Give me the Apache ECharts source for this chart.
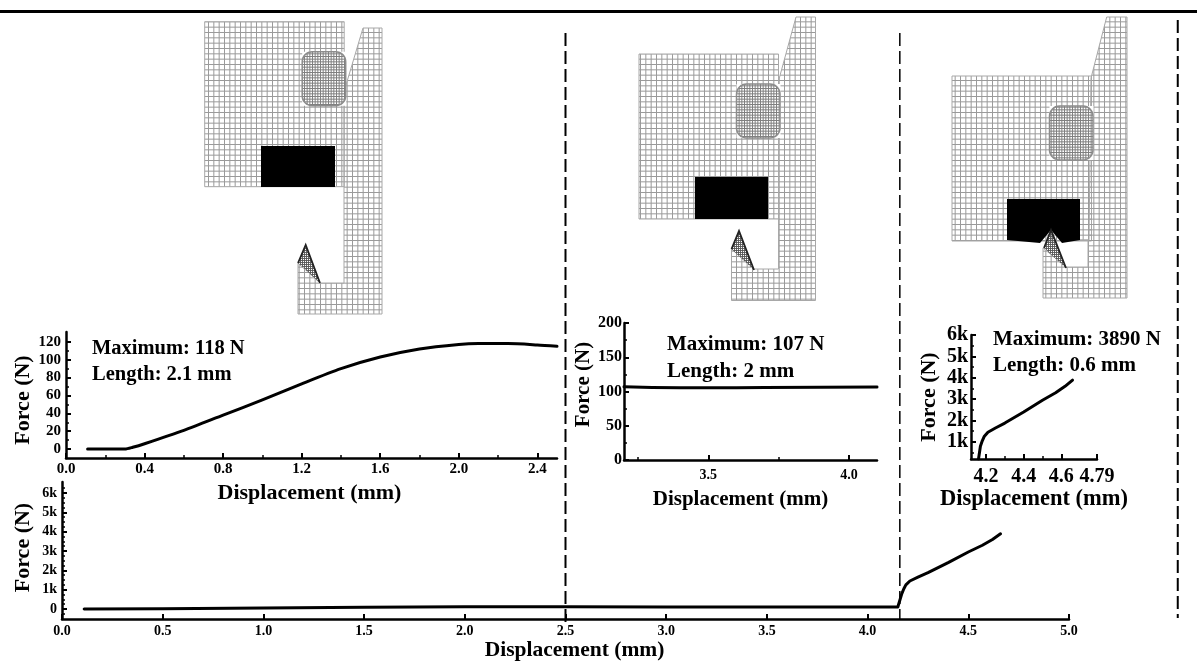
<!DOCTYPE html>
<html><head><meta charset="utf-8">
<style>html,body{margin:0;padding:0;background:#fff}#c{width:1197px;height:662px}</style>
<script src="https://cdn.jsdelivr.net/npm/echarts@6/dist/echarts.min.js"></script>
</head><body><div id="c"></div>
<script>
const onsetX=[0.11,0.3,0.34,0.4,0.6,0.8,1.0,1.2,1.4,1.6,1.8,2.0,2.1,2.25,2.4,2.5];
const onsetF=[0,0,2,6,21,38,55,73,90,103,112,117,118,118,116.5,115];
const plateauX=[3.2,3.3,3.4,3.6,3.7,4.1];
const plateauF=[107,106,105.5,105.5,106,106.5];
const riseX=[4.16,4.17,4.18,4.19,4.21,4.25,4.3,4.4,4.5,4.57,4.62,4.66];
const riseF=[200,800,1050,1250,1450,1650,1880,2400,2950,3300,3600,3890];
const fullX=[0.11,0.5,1,1.5,2,2.5,3,3.5,4.15,4.157,4.17,4.18,4.19,4.21,4.25,4.3,4.4,4.5,4.57,4.62,4.66];
const fullF=[0,15,55,90,117,115,107,106,107,150,800,1050,1250,1450,1650,1880,2400,2950,3300,3600,3890];
const dividers=[2.5,4.16,5.54];
const onsetYTicks=[0,20,40,60,80,100,120];
const onsetYMinor=[10,30,50,70,90,110];
const onsetXTicks=[0,0.4,0.8,1.2,1.6,2.0,2.4];
const onsetXMinor=[0.2,0.6,1.0,1.4,1.8,2.2];
const plateauYTicks=[0,50,100,150,200];
const plateauYMinor=[25,75,125,175];
const plateauXTicks=[3.5,4.0];
const plateauXMinor=[3.25,3.75];
const riseYTicks=[1000,2000,3000,4000,5000,6000];
const riseYMinor=[500,1500,2500,3500,4500,5500];
const riseXTicks=[4.2,4.4,4.6,4.79];
const riseXMinor=[4.3,4.5];
const fullYTicks=[0,1000,2000,3000,4000,5000,6000];
const fullYMinor=[-250,250,500,750,1250,1500,1750,2250,2500,2750,3250,3500,3750,4250,4500,4750,5250,5500,5750,6250];
const fullXTicks=[0,0.5,1,1.5,2,2.5,3,3.5,4,4.5,5];
const xTitle='Displacement (mm)', yTitle='Force (N)';
const notes=[['Maximum: 118 N','Length: 2.1 mm'],['Maximum: 107 N','Length: 2 mm'],['Maximum: 3890 N','Length: 0.6 mm']];

const FONT='"Liberation Serif"';
const grids=[
 {left:66,top:332,width:491,height:126,outerBoundsMode:'none'},
 {left:624,top:323,width:253,height:137,outerBoundsMode:'none'},
 {left:971,top:335,width:126,height:124,outerBoundsMode:'none'},
 {left:62,top:482,width:1007,height:137,outerBoundsMode:'none'}
];
const kfmt=v=>v===0?'0':(v/1000)+'k';
const fmt1=v=>v===4.79?'4.79':v.toFixed(1);
function axis(type,grid,min,max,ticks,minor,fmt,fs,margin,name,nameFs,gap,pad,fixedName){
 const a={type:'value',gridIndex:grid,min,max,position:type==='x'?'bottom':'left',splitLine:{show:false},
  axisLine:{show:true,onZero:false,lineStyle:{color:'#000',width:2.5}},
  axisTick:{show:true,inside:true,length:5,lineStyle:{color:'#000',width:2},customValues:ticks},
  axisLabel:{show:true,customValues:ticks,formatter:fmt,margin,color:'#000',fontFamily:FONT,fontWeight:'bold',fontSize:fs,showMinLabel:true,showMaxLabel:true,hideOverlap:false},
  name,nameLocation:'middle',nameGap:gap,nameMoveOverlap:!fixedName,nameTextStyle:{color:'#000',fontFamily:FONT,fontWeight:'bold',fontSize:nameFs,padding:pad||0}};
 const m={type:'value',gridIndex:grid,min,max,position:type==='x'?'bottom':'left',splitLine:{show:false},
  axisLine:{show:false,onZero:false},axisLabel:{show:false},
  axisTick:{show:!!minor.length,inside:true,length:3,lineStyle:{color:'#000',width:1.5},customValues:minor}};
 return [a,m];
}
const xs=[],ys=[];
xs.push(...axis('x',0,0,2.5,onsetXTicks,onsetXMinor,v=>v.toFixed(1),15,4,xTitle,22,24,[0,4,0,0]));
ys.push(...axis('y',0,-10,131,onsetYTicks,onsetYMinor,v=>String(v),15,5,yTitle,22,31,[0,10,0,0]));
xs.push(...axis('x',1,3.2,4.1,plateauXTicks,plateauXMinor,v=>v.toFixed(1),14,8,xTitle,21,29,[0,20,0,0]));
ys.push(...axis('y',1,0,200,plateauYTicks,plateauYMinor,v=>String(v),16,2,yTitle,21,29,[0,0,0,14]));
xs.push(...axis('x',2,4.12,4.79,riseXTicks,riseXMinor,fmt1,20,8,xTitle,22.5,27,[0,0,0,0]));
ys.push(...axis('y',2,200,6000,riseYTicks,riseYMinor,kfmt,20,3,yTitle,22,31,[0,0,0,0]));
xs.push(...axis('x',3,0,5,fullXTicks,[],v=>v.toFixed(1),14,5,xTitle,21.5,20,[0,0,0,18],true));
ys.push(...axis('y',3,-515,6570,fullYTicks,fullYMinor,kfmt,14,5,yTitle,22,28,[0,0,0,6],true));
const pairs=(a,b)=>a.map((v,i)=>[v,b[i]]);
const line=(i,x,y,w,s)=>({type:'line',xAxisIndex:i*2,yAxisIndex:i*2,data:pairs(x,y),showSymbol:false,symbol:'none',clip:true,z:5,smooth:s||false,
  lineStyle:{color:'#000',width:w,cap:'round',join:'round'}});

function tile(cells,size,color,w){
 const c=document.createElement('canvas');c.width=c.height=size;const g=c.getContext('2d');
 g.strokeStyle=color;g.lineWidth=w;
 for(let i=0;i<cells;i++){const p=i*size/cells+0.5;g.beginPath();g.moveTo(p,0);g.lineTo(p,size);g.moveTo(0,p);g.lineTo(size,p);g.stroke();}
 return c;
}
const coarse={image:tile(3,16,'#9a9a9a',1),repeat:'repeat'};
const fine={image:tile(3,8,'#808080',1),repeat:'repeat'};
const dense={image:tile(2,4,'#555',0.9),repeat:'repeat'};
const poly=(pts,fill,z)=>({type:'polygon',silent:true,z:z||1,shape:{points:pts},style:{fill,stroke:'#a8a8a8',lineWidth:1}});
function mesh(m){
 const out=[];
 const b=m.block;
 out.push(poly([[b[0],b[1]],[b[0]+139.5,b[1]],[b[0]+139.5,b[1]+165],[b[0],b[1]+165]],coarse,1));
 out.push(poly(m.column,coarse,1));
 const cx=b[0]+97.5,cy=b[1]+30;
 out.push({type:'rect',silent:true,z:2,shape:{x:cx,y:cy,width:44,height:54},style:{fill:'#fff'}});
 out.push({type:'rect',silent:true,z:3,shape:{x:cx,y:cy,width:43.5,height:54,r:10},style:{fill:fine,stroke:'#8c8c8c',lineWidth:1.5}});
 out.push({type:'polygon',silent:true,z:3,shape:{points:m.black},style:{fill:'#000'}});
 const w=m.wedge;
 out.push({type:'polygon',silent:true,z:4,shape:{points:w},style:{fill:dense,stroke:null}});
 out.push({type:'polyline',silent:true,z:4,shape:{points:[w[1],w[0],w[2]]},style:{fill:null,stroke:'#222',lineWidth:1.8}});
 return out;
}
const meshes=[
 {block:[204.7,21.7],column:[[363,28],[382,28],[382,314],[298,314],[298,263],[320,283],[344,283],[344,107],[344.5,90]],
  black:[[261,146],[335,146],[335,187],[261,187]],wedge:[[305.7,245],[298,263],[320,283]]},
 {block:[639,54],column:[[796,17],[815.5,17],[815.5,300.5],[731.5,300.5],[731.5,249],[754,269],[778.5,269],[778.5,81]],
  black:[[695,177],[768,177],[768,219],[695,219]],wedge:[[739,231],[731.5,249],[754,270]]},
 {block:[952,76],column:[[1106.7,17],[1127,17],[1127,298],[1043,298],[1043,248],[1066,267],[1088,267],[1088,240],[1062,240],[1089,240],[1091,78]],
  black:[[1007,199],[1080,199],[1080,240],[1062,243],[1051,230],[1040,243],[1007,240]],wedge:[[1051,230],[1044,248],[1066,268]]}
];
const note=(t,x,y,fs)=>({type:'text',silent:true,z:6,x,y,style:{text:t,fill:'#000',font:'bold '+fs+'px '+FONT,textVerticalAlign:'middle'}});

const chart=echarts.init(document.getElementById('c'),null,{renderer:'canvas'});
chart.setOption({animation:false,backgroundColor:'#fff',grid:grids,xAxis:xs,yAxis:ys,
 series:[line(0,onsetX,onsetF,3,0.25),line(1,plateauX,plateauF,3),line(2,riseX,riseF,3),line(3,fullX,fullF,3)]});
const divTop=[33,33,20],divBot=[622,620,618],divW=[2,1.5,2];
const graphics=[{type:'rect',silent:true,shape:{x:0,y:10,width:1197,height:3},style:{fill:'#000'}}];
dividers.forEach((d,i)=>{
 const px=chart.convertToPixel({xAxisIndex:6},d);
 graphics.push({type:'line',silent:true,z:4,shape:{x1:px,y1:divTop[i],x2:px,y2:divBot[i]},style:{stroke:'#000',lineWidth:divW[i],lineDash:[13,5]}});
});
meshes.forEach(m=>graphics.push(...mesh(m)));
graphics.push(note(notes[0][0],92,349,20.5),note(notes[0][1],92,375,20.5),note(notes[1][0],667,345,21),note(notes[1][1],667,372,21),note(notes[2][0],993,339.5,21),note(notes[2][1],993,366,21));
chart.setOption({graphic:graphics});
</script></body></html>
